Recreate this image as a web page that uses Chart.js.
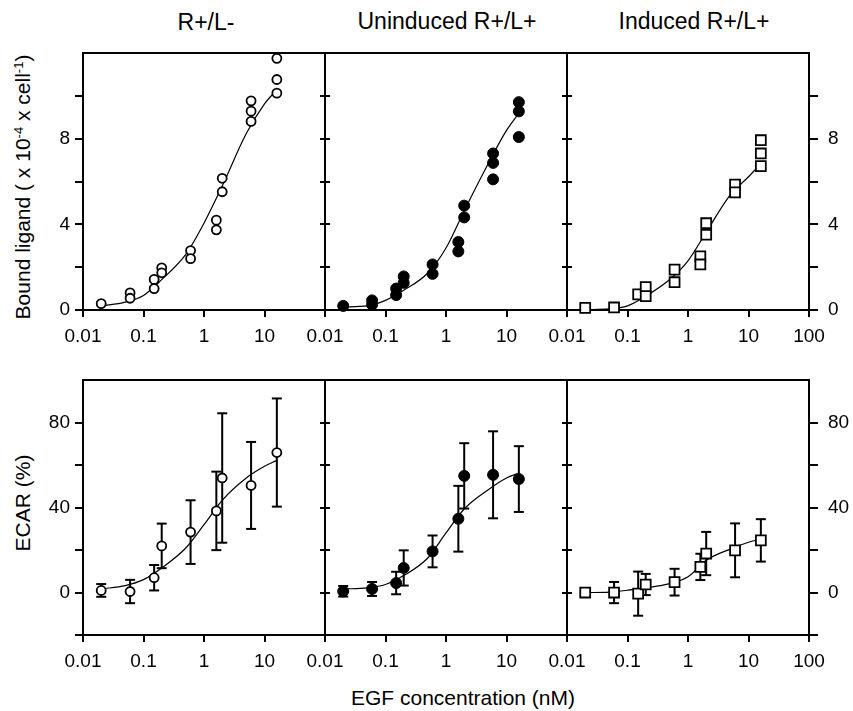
<!DOCTYPE html>
<html>
<head>
<meta charset="utf-8">
<title>EGF binding and ECAR</title>
<script src="https://cdn.jsdelivr.net/npm/chart.js@4.4.1/dist/chart.umd.min.js"></script>
<style>
  body { margin: 0; background: #fff; }
  #wrap { position: relative; width: 853px; height: 711px; overflow: hidden;
          font-family: "Liberation Sans", Arial, Helvetica, sans-serif; color: #000; }
  #wrap canvas { position: absolute; }
  .txt { position: absolute; white-space: nowrap; line-height: 1; transform: translate(-50%, -50%); }
  .vert { transform: translate(-50%, -50%) rotate(-90deg); }
  .txt sup { font-size: 0.62em; position: relative; top: -0.55em; vertical-align: baseline; }
</style>
</head>
<body>
<div id="wrap">
  <div class="txt" style="left:206px; top:22px; font-size:23px;">R+/L-</div>
  <div class="txt" style="left:447px; top:21px; font-size:23px;">Uninduced R+/L+</div>
  <div class="txt" style="left:694px; top:21px; font-size:23px;">Induced R+/L+</div>
  <div class="txt vert" style="left:22px; top:187px; font-size:21px;">Bound ligand ( x 10<sup>-4</sup> x cell<sup>-1</sup>)</div>
  <div class="txt vert" style="left:22px; top:503px; font-size:21px;">ECAR (%)</div>
  <div class="txt" style="left:463px; top:697px; font-size:21px;">EGF concentration (nM)</div>
</div>
<script>
/* ---- Datos ---- */
// concentraciones de EGF (nM)
const doses = [0.02, 0.06, 0.15, 0.2, 0.6, 1.6, 2, 6, 16];

// ligando unido (replicas), fila superior
const bindRL_x = [0.02, 0.06, 0.06, 0.15, 0.15, 0.2, 0.2, 0.6, 0.6, 1.6, 1.6, 2, 2, 6, 6, 6, 16, 16, 16];
const bindRL_y = [0.3, 0.8, 0.55, 1.43, 1.0, 1.97, 1.74, 2.78, 2.4, 4.2, 3.75, 6.16, 5.53, 9.78, 9.3, 8.82, 11.77, 10.78, 10.14];
const bindUn_x = [0.02, 0.06, 0.06, 0.15, 0.15, 0.2, 0.2, 0.6, 0.6, 1.6, 1.6, 2, 2, 6, 6, 6, 16, 16, 16];
const bindUn_y = [0.19, 0.45, 0.25, 1.0, 0.7, 1.57, 1.27, 2.13, 1.69, 3.18, 2.74, 4.88, 4.33, 7.32, 6.88, 6.11, 9.72, 9.29, 8.09];
const bindIn_x = [0.02, 0.06, 0.15, 0.2, 0.2, 0.6, 0.6, 1.6, 1.6, 2, 2, 6, 6, 16, 16, 16];
const bindIn_y = [0.1, 0.12, 0.73, 1.07, 0.65, 1.89, 1.3, 2.51, 2.13, 4.06, 3.52, 5.87, 5.5, 7.94, 7.32, 6.73];

// curvas ajustadas
const fitX = [0.02, 0.05, 0.1, 0.2, 0.5, 1, 2, 5, 10, 16];
const fitBindRL = [0.19, 0.37, 0.68, 1.42, 2.6, 4.06, 5.8, 8.25, 9.64, 10.3];
const fitBindUn = [0.14, 0.19, 0.45, 0.92, 1.73, 2.9, 4.64, 6.85, 8.4, 9.2];
const fitBindIn = [0.02, 0.05, 0.19, 0.65, 1.43, 2.3, 3.64, 5.38, 6.23, 6.85];

// ECAR (%) promedio y error, fila inferior
const ecarRL = [1, 0.5, 7, 22, 28.5, 38.5, 54, 50.5, 66];
const errRL  = [3, 5.5, 6, 10.5, 15, 18.5, 30.5, 20.5, 25.5];
const ecarUn = [0.6, 1.7, 4.5, 11.6, 19.4, 34.8, 55, 55.5, 53.5];
const errUn  = [2.5, 3.3, 5.3, 8.3, 7.5, 15.5, 15.4, 20.5, 15.5];
const ecarIn = [0, 0, -0.5, 3.8, 4.9, 12.1, 18.4, 19.9, 24.6];
const errIn  = [0, 5, 10.4, 5, 6.3, 6.2, 10.2, 12.7, 10];

const fitEcarRL = [1.7, 3.3, 6.1, 11.6, 21, 32, 43.5, 54, 59.5, 62.3];
const fitEcarUn = [1.7, 2.2, 3.8, 8.0, 16.3, 28.1, 39.4, 48.5, 54, 56.3];
const fitEcarIn = [0, 0.2, 1.1, 2.2, 4.2, 7.4, 15.2, 20.5, 23.7, 25.3];

// ticks
const xTicks = [0.01, 0.1, 1, 10, 100];
const bindTicks = [0, 2, 4, 6, 8, 10];
const bindLabels = [0, 4, 8];
const ecarTicks = [-20, 0, 20, 40, 60, 80];
const ecarLabels = [0, 40, 80];

/* ---- Layout ---- */
const FONT = '"Liberation Sans", Arial, Helvetica, sans-serif';
const colLeft = [83, 325, 567];
const plotW = 242;
const rowTop = [52, 379];
const plotH = [258, 256];
const ML = 80, MR = 80, MT = 20, MB = 50;

const wrap = document.getElementById("wrap");

function pairs(xs, ys) { return xs.map((x, i) => ({ x, y: ys[i] })); }

// barras de error: segmentos separados por null
function errorSegments(m, e) {
  const pts = [];
  doses.forEach((d, i) => {
    if (!e[i]) return;
    pts.push({ x: d, y: m[i] - e[i] }, { x: d, y: m[i] + e[i] }, { x: d, y: null });
  });
  return pts;
}

const markers = {
  open:   { pointStyle: "circle", pointRadius: 4.5, pointBackgroundColor: "#fff", pointBorderColor: "#000", pointBorderWidth: 1.8 },
  filled: { pointStyle: "circle", pointRadius: 5.5, pointBackgroundColor: "#000", pointBorderColor: "#000", pointBorderWidth: 1 },
  square: { pointStyle: "rect",   pointRadius: 7,   pointBackgroundColor: "#fff", pointBorderColor: "#000", pointBorderWidth: 1.8 },
};

const panels = [
  { row: 0, col: 0, marker: "open",   pts: pairs(bindRL_x, bindRL_y), fit: fitBindRL },
  { row: 0, col: 1, marker: "filled", pts: pairs(bindUn_x, bindUn_y), fit: fitBindUn },
  { row: 0, col: 2, marker: "square", pts: pairs(bindIn_x, bindIn_y), fit: fitBindIn },
  { row: 1, col: 0, marker: "open",   pts: pairs(doses, ecarRL), fit: fitEcarRL, err: errorSegments(ecarRL, errRL) },
  { row: 1, col: 1, marker: "filled", pts: pairs(doses, ecarUn), fit: fitEcarUn, err: errorSegments(ecarUn, errUn) },
  { row: 1, col: 2, marker: "square", pts: pairs(doses, ecarIn), fit: fitEcarIn, err: errorSegments(ecarIn, errIn) },
];

function buildPanel(p) {
  const w = plotW + ML + MR, h = plotH[p.row] + MT + MB;
  const cv = document.createElement("canvas");
  cv.width = w; cv.height = h;
  cv.style.width = w + "px"; cv.style.height = h + "px";
  cv.style.left = (colLeft[p.col] - ML) + "px";
  cv.style.top = (rowTop[p.row] - MT) + "px";
  wrap.appendChild(cv);

  const top = p.row === 0;
  const yTicks = top ? bindTicks : ecarTicks;
  const yLab = top ? bindLabels : ecarLabels;
  const border = { display: true, color: "#000", width: 2 };
  const grid = len => ({ drawOnChartArea: false, drawTicks: true, tickLength: len, color: "#000", lineWidth: 2 });
  const tickFont = { family: FONT, size: 19 };

  const datasets = [
    Object.assign({ data: p.pts, showLine: false, clip: false }, markers[p.marker]),
  ];
  if (p.err) {
    datasets.push({
      data: p.err, showLine: true, spanGaps: false, borderColor: "#000", borderWidth: 2,
      pointStyle: "line", pointRadius: 5, pointBorderWidth: 2, pointBorderColor: "#000", clip: false,
    });
  }
  datasets.push({
    data: pairs(fitX, p.fit), showLine: true, borderColor: "#000", borderWidth: 1.2,
    pointRadius: 0, cubicInterpolationMode: "monotone", clip: false,
  });

  new Chart(cv, {
    type: "scatter",
    data: { datasets },
    options: {
      responsive: false,
      animation: false,
      events: [],
      layout: { padding: 0 },
      plugins: { legend: { display: false }, tooltip: { enabled: false } },
      scales: {
        x: {
          type: "logarithmic", position: "bottom", min: 0.01, max: 100,
          afterBuildTicks: s => { s.ticks = xTicks.map(v => ({ value: v })); },
          afterFit: s => { s.height = MB; },
          ticks: {
            autoSkip: false, maxRotation: 0, padding: 8, color: "#000", font: tickFont,
            callback: v => (v === 100 && p.col < 2) ? "" : String(v),
          },
          grid: grid(7), border,
        },
        xTop: {
          type: "logarithmic", position: "top", min: 0.01, max: 100,
          afterFit: s => { s.height = MT; },
          ticks: { display: false },
          grid: { display: false, drawTicks: false }, border,
        },
        y: {
          type: "linear", position: "left", min: top ? 0 : -20, max: top ? 12 : 100,
          afterBuildTicks: s => { s.ticks = yTicks.map(v => ({ value: v })); },
          afterFit: s => { s.width = ML; },
          ticks: {
            padding: 5, color: "#000", font: tickFont,
            callback: v => (p.col === 0 && yLab.includes(v)) ? String(v) : "",
          },
          grid: grid(p.col === 0 ? 8 : 5), border,
        },
        y2: {
          type: "linear", position: "right", min: top ? 0 : -20, max: top ? 12 : 100,
          afterBuildTicks: s => { s.ticks = yTicks.map(v => ({ value: v })); },
          afterFit: s => { s.width = MR; },
          ticks: {
            padding: 10, color: "#000", font: tickFont,
            callback: v => (p.col === 2 && yLab.includes(v)) ? String(v) : "",
          },
          grid: grid(p.col === 2 ? 9 : 5), border,
        },
      },
    },
  });
}

panels.forEach(buildPanel);
</script>
</body>
</html>
